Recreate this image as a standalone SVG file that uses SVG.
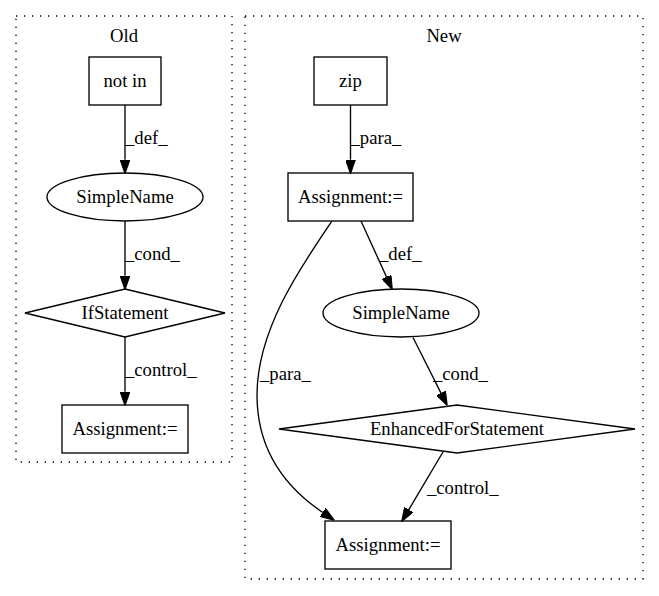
<svg xmlns="http://www.w3.org/2000/svg" width="659" height="596" viewBox="0 0 659 596">
<style>
text{font-family:'Liberation Serif','Times New Roman',serif;font-size:18.67px;fill:#000}
.n{text-anchor:middle}
.shape{fill:none;stroke:#000;stroke-width:1.33}
.cluster{fill:none;stroke:#000;stroke-width:1.33;stroke-dasharray:1.33,6.67}
.edge{fill:none;stroke:#000;stroke-width:1.33}
</style>
<defs>
<marker id="arr" markerUnits="userSpaceOnUse" markerWidth="14" markerHeight="10" viewBox="0 0 13.3 9.33" refX="0" refY="4.67" orient="auto">
<path d="M0,0 L13.3,4.67 L0,9.33 z" fill="#000" stroke="#000" stroke-width="1"/>
</marker>
</defs>
<rect width="659" height="596" fill="#fff"/>
<g id="cluster_old">
<rect class="cluster" x="16" y="16" width="216" height="446"/>
<text class="n" x="124" y="42">Old</text>
</g>
<g id="cluster_new">
<rect class="cluster" x="245" y="16" width="398" height="563"/>
<text class="n" x="444" y="42">New</text>
</g>
<g id="connectors">
<path class="edge" d="M125,105 L125,159.7" marker-end="url(#arr)"/>
<text x="125" y="144">_def_</text>
<path class="edge" d="M125,221 L125,275.7" marker-end="url(#arr)"/>
<text x="125" y="260">_cond_</text>
<path class="edge" d="M125,337 L125,391.7" marker-end="url(#arr)"/>
<text x="125" y="376">_control_</text>
<path class="edge" d="M350.5,105 L350.5,159.7" marker-end="url(#arr)"/>
<text x="350.5" y="144">_para_</text>
<path class="edge" d="M361,221 L386.5,276.9" marker-end="url(#arr)"/>
<text x="379" y="260">_def_</text>
<path class="edge" d="M332,221 C300,268 257,330 257,395 C257,450 285,487 322.8,512.5" marker-end="url(#arr)"/>
<text x="260" y="380">_para_</text>
<path class="edge" d="M413,337.5 L441,393.1" marker-end="url(#arr)"/>
<text x="433" y="380">_cond_</text>
<path class="edge" d="M443,452 L408.8,509.6" marker-end="url(#arr)"/>
<text x="427" y="494">_control_</text>
</g>
<g id="old_notin">
<rect class="shape" x="89" y="57" width="72" height="48"/>
<text class="n" x="125" y="87">not in</text>
</g>
<g id="old_simplename">
<ellipse class="shape" cx="125" cy="197" rx="78" ry="24"/>
<text class="n" x="125" y="203">SimpleName</text>
</g>
<g id="old_ifstatement">
<polygon class="shape" points="125,289 225,313 125,337 25,313"/>
<text class="n" x="125" y="319">IfStatement</text>
</g>
<g id="old_assignment">
<rect class="shape" x="62" y="405" width="126" height="48"/>
<text class="n" x="125" y="435">Assignment:=</text>
</g>
<g id="new_zip">
<rect class="shape" x="314" y="57" width="73" height="48"/>
<text class="n" x="350.5" y="87">zip</text>
</g>
<g id="new_assignment1">
<rect class="shape" x="288" y="173" width="125" height="48"/>
<text class="n" x="350.5" y="203">Assignment:=</text>
</g>
<g id="new_simplename">
<ellipse class="shape" cx="401" cy="313" rx="78" ry="24"/>
<text class="n" x="401" y="319">SimpleName</text>
</g>
<g id="new_enhancedfor">
<polygon class="shape" points="457,405 635,429 457,453 279,429"/>
<text class="n" x="457" y="435">EnhancedForStatement</text>
</g>
<g id="new_assignment2">
<rect class="shape" x="325" y="521" width="126" height="48"/>
<text class="n" x="388" y="551">Assignment:=</text>
</g>
</svg>
